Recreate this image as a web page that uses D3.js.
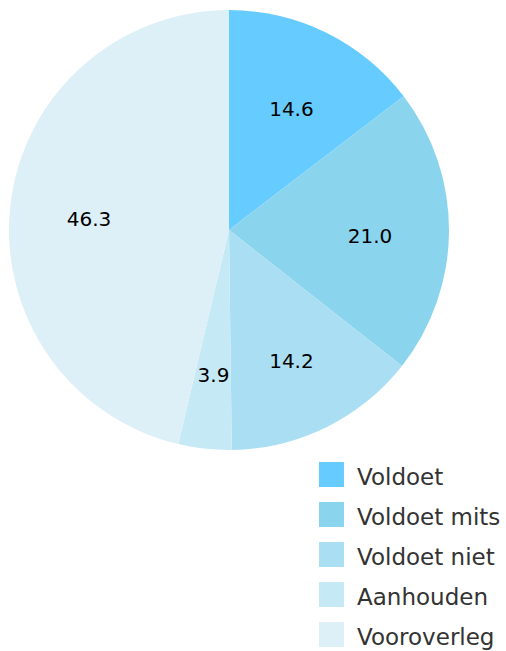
<!DOCTYPE html>
<html><head><meta charset="utf-8">
<script src="https://cdn.jsdelivr.net/npm/d3@7"></script>
<style>body{margin:0;background:#fff}svg{display:block}</style>
</head><body>
<svg id="chart" width="506" height="651"></svg>
<script>
const categories = ["Voldoet", "Voldoet mits", "Voldoet niet", "Aanhouden", "Vooroverleg"];
const values = [14.6, 21.0, 14.2, 3.9, 46.3];
const colors = ["#66ccff", "#8ad4ee", "#aadff3", "#c6e9f6", "#ddeff7"];

const svg = d3.select("#chart");
const cx = 229, cy = 230, R = 220;
const data = categories.map((c, i) => ({cat: c, value: values[i]}));
const pie = d3.pie().value(d => d.value).sort(null);
const arc = d3.arc().innerRadius(0).outerRadius(R);
const labelArc = d3.arc().innerRadius(141).outerRadius(141);
const color = d3.scaleOrdinal().domain(categories).range(colors);

const g = svg.append("g").attr("transform", `translate(${cx},${cy})`);
const arcs = pie(data);
g.selectAll("path").data(arcs).join("path")
  .attr("d", arc).attr("fill", d => color(d.data.cat));
g.selectAll("text").data(arcs).join("text")
  .attr("transform", d => `translate(${labelArc.centroid(d)})`)
  .attr("text-anchor", "middle").attr("dy", "0.6em")
  .attr("font-family", "DejaVu Sans").attr("font-size", 20).attr("fill", "#000")
  .text(d => d.data.value.toFixed(1));

const lg = svg.append("g").attr("transform", "translate(319,462)");
const rows = lg.selectAll("g").data(categories).join("g")
  .attr("transform", (d, i) => `translate(0,${i * 40})`);
rows.append("rect").attr("width", 25).attr("height", 25).attr("fill", d => color(d));
rows.append("text").attr("x", 38).attr("y", 22.5)
  .attr("font-family", "DejaVu Sans").attr("font-size", 23).attr("fill", "#333")
  .text(d => d);
</script>
</body></html>
